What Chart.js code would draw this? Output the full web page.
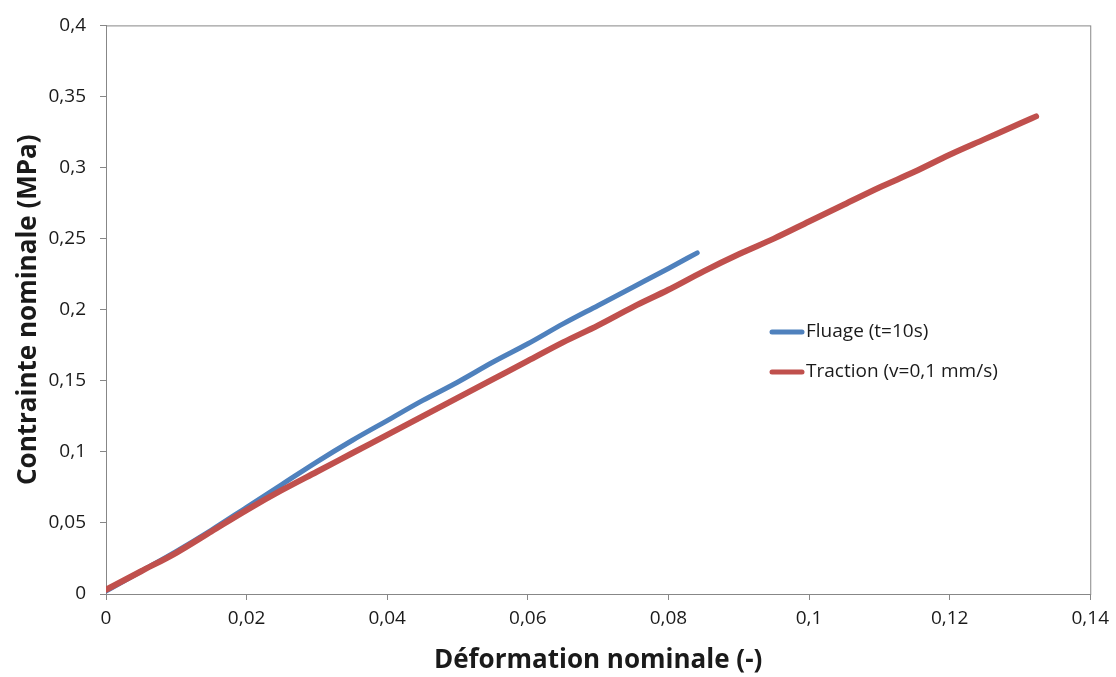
<!DOCTYPE html>
<html>
<head>
<meta charset="utf-8">
<script src="https://cdn.jsdelivr.net/npm/chart.js@4"></script>
<style>
  html, body { margin: 0; padding: 0; background: #fff; }
  #wrap { width: 1116px; height: 677px; }
</style>
</head>
<body>
<div id="wrap"><canvas id="chart" width="1116" height="677"></canvas></div>
<script>
// Valeurs
const fluageX = [0, 0.005, 0.01, 0.015, 0.02, 0.025, 0.03, 0.035, 0.04, 0.045, 0.05, 0.055, 0.06, 0.065, 0.07, 0.075, 0.08, 0.0841];
const fluageY = [0.002, 0.016, 0.030, 0.045, 0.061, 0.077, 0.093, 0.108, 0.122, 0.136, 0.149, 0.163, 0.176, 0.190, 0.203, 0.216, 0.229, 0.240];

const tractionX = [0, 0.005, 0.01, 0.015, 0.02, 0.025, 0.03, 0.035, 0.04, 0.045, 0.05, 0.055, 0.06, 0.065, 0.07, 0.075, 0.08, 0.085, 0.09, 0.095, 0.1, 0.105, 0.11, 0.115, 0.12, 0.125, 0.13, 0.1323];
const tractionY = [0.003, 0.016, 0.029, 0.044, 0.059, 0.073, 0.086, 0.099, 0.112, 0.125, 0.138, 0.151, 0.164, 0.177, 0.189, 0.202, 0.214, 0.227, 0.239, 0.250, 0.262, 0.274, 0.286, 0.297, 0.309, 0.320, 0.331, 0.336];

const seriesLabels = ["Fluage (t=10s)", "Traction (v=0,1 mm/s)"];
const xTickLabels = ["0", "0,02", "0,04", "0,06", "0,08", "0,1", "0,12", "0,14"];
const yTickLabels = ["0", "0,05", "0,1", "0,15", "0,2", "0,25", "0,3", "0,35", "0,4"];

const toPoints = (xs, ys) => xs.map((x, i) => ({ x: x, y: ys[i] }));

const axisGray = "#878787";
const fontFamily = "'Open Sans', sans-serif";

// cadre complet autour de la zone de tracé
const framePlugin = {
  id: "frame",
  beforeDatasetsDraw(chart) {
    const { ctx, chartArea: a } = chart;
    ctx.save();
    ctx.strokeStyle = axisGray;
    ctx.lineWidth = 1;
    ctx.strokeRect(a.left + 0.5, a.top + 0.5, a.right - a.left, a.bottom - a.top);
    ctx.restore();
  }
};

// légende dans le graphique
const legendPlugin = {
  id: "insideLegend",
  afterDraw(chart) {
    const ctx = chart.ctx;
    ctx.save();
    ctx.font = "19px " + fontFamily;
    ctx.textBaseline = "middle";
    ctx.lineCap = "round";
    chart.data.datasets.forEach((ds, i) => {
      const y = 332 + i * 40;
      ctx.strokeStyle = ds.borderColor;
      ctx.lineWidth = 5;
      ctx.beginPath();
      ctx.moveTo(772, y);
      ctx.lineTo(802, y);
      ctx.stroke();
      ctx.fillStyle = "#1a1a1a";
      ctx.fillText(ds.label, 806, y);
    });
    ctx.restore();
  }
};

new Chart(document.getElementById("chart"), {
  type: "scatter",
  data: {
    datasets: [
      {
        label: seriesLabels[0],
        data: toPoints(fluageX, fluageY),
        showLine: true,
        borderColor: "#4F81BD",
        borderWidth: 5,
        borderCapStyle: "round",
        cubicInterpolationMode: "monotone",
        pointRadius: 0,
        order: 1
      },
      {
        label: seriesLabels[1],
        data: toPoints(tractionX, tractionY),
        showLine: true,
        borderColor: "#C0504D",
        borderWidth: 6,
        borderCapStyle: "round",
        cubicInterpolationMode: "monotone",
        pointRadius: 0,
        order: 0
      }
    ]
  },
  options: {
    responsive: false,
    animation: false,
    layout: { padding: { top: 20, right: 24, left: 0, bottom: 0 } },
    plugins: {
      legend: { display: false },
      tooltip: { enabled: false }
    },
    scales: {
      x: {
        type: "linear",
        min: 0,
        max: 0.14,
        afterFit: s => { s.height = 83; },
        ticks: {
          stepSize: 0.02,
          padding: 7,
          color: "#1a1a1a",
          font: { family: fontFamily, size: 19 },
          maxRotation: 0,
          callback: (v, i) => xTickLabels[i]
        },
        grid: { drawOnChartArea: false, tickLength: 6, color: axisGray },
        border: { color: axisGray },
        title: {
          display: true,
          text: "Déformation nominale (-)",
          color: "#1a1a1a",
          font: { family: fontFamily, size: 26, weight: "bold" },
          padding: { top: 0, bottom: 1 }
        }
      },
      y: {
        type: "linear",
        min: 0,
        max: 0.4,
        afterFit: s => { s.width = 106; },
        ticks: {
          stepSize: 0.05,
          padding: 14,
          color: "#1a1a1a",
          font: { family: fontFamily, size: 19 },
          callback: (v, i) => yTickLabels[i]
        },
        grid: { drawOnChartArea: false, tickLength: 6, color: axisGray },
        border: { color: axisGray },
        title: {
          display: true,
          text: "Contrainte nominale (MPa)",
          color: "#1a1a1a",
          font: { family: fontFamily, size: 26, weight: "bold" },
          padding: { top: 13, bottom: 0 }
        }
      }
    }
  },
  plugins: [framePlugin, legendPlugin]
});
</script>
</body>
</html>
